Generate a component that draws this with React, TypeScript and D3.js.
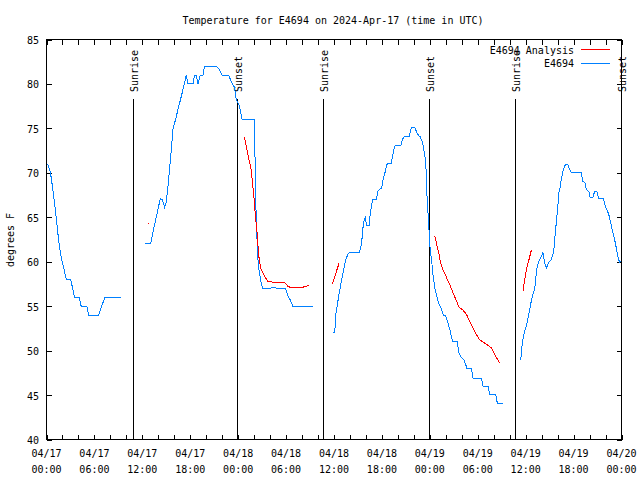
import React from "react";
import * as d3 from "d3";

// ---- data (hours since 2024-04-17 00:00 UTC, temperature °F) ----
const startMs = Date.UTC(2024, 3, 17, 0, 0);
const endMs = Date.UTC(2024, 3, 20, 0, 0);

const title = "Temperature for E4694 on 2024-Apr-17 (time in UTC)";
const yLabel = "degrees F";
const seriesNames = ["E4694 Analysis", "E4694"];
const seriesColors = ["#ff0000", "#0080ff"];

const yTicks = [40, 45, 50, 55, 60, 65, 70, 75, 80, 85];
const xLabelHours = [0, 6, 12, 18, 24, 30, 36, 42, 48, 54, 60, 66, 72];
const xTickHours = d3.range(0, 73, 2);

const sunLabels = ["Sunrise", "Sunset", "Sunrise", "Sunset", "Sunrise", "Sunset"];
const sunHours = [10.79, 23.88, 34.67, 47.91, 58.67, 71.97];

const obsSeg1: [number, number][] = [
  [0.13, 71], [0.25, 70.8], [0.5, 70], [0.66, 69], [1.0, 66.7], [1.21, 65], [1.41, 63.3],
  [1.63, 61.7], [1.91, 60.2], [2.16, 59.3], [2.38, 58.4], [2.5, 58], [3.04, 58], [3.5, 56],
  [4.09, 56], [4.34, 55], [5.04, 55], [5.29, 54], [6.54, 54], [6.9, 55], [7.34, 56], [9.34, 56],
];
const obsSeg2: [number, number][] = [
  [12.29, 62], [13.04, 62], [13.54, 64.2], [13.96, 65.9], [14.25, 67.1], [14.5, 67], [14.79, 66.1],
  [15.0, 66.7], [15.21, 68.5], [15.41, 70.4], [15.63, 72.6], [15.84, 74.9], [16.16, 76],
  [16.46, 77.1], [16.88, 78.6], [17.29, 80.1], [17.5, 81], [17.71, 80], [18.34, 80], [18.54, 81],
  [18.75, 81], [18.96, 80], [19.25, 81], [19.59, 81], [19.79, 82], [21.25, 82], [21.66, 81.6],
  [22.0, 81], [22.79, 81], [23.13, 80.3], [23.54, 79.6], [23.75, 78.25], [24.16, 77.5], [24.5, 76],
  [26.04, 76], [26.09, 73], [26.19, 67], [26.34, 62.9], [26.5, 59.9], [26.66, 58.75], [26.88, 57.6],
  [27.09, 57], [28.0, 57], [28.3, 57.1], [29.0, 57], [29.91, 57], [30.21, 56.2], [30.5, 55.75],
  [30.84, 55], [33.34, 55],
];
const obsSeg3: [number, number][] = [
  [35.84, 52], [36.09, 52], [36.16, 53.1], [36.25, 54.25], [36.46, 55.4], [36.66, 56.5],
  [36.88, 57.6], [37.09, 58.6], [37.29, 59.5], [37.5, 60.25], [37.71, 60.8], [37.91, 61],
  [39.16, 61], [39.38, 61.75], [39.5, 62.5], [39.59, 63.6], [39.79, 64.75], [39.91, 65],
  [40.09, 64.1], [40.41, 64.1], [40.54, 65.5], [40.71, 66.3], [40.84, 67], [41.34, 67],
  [41.46, 67.9], [41.66, 68.1], [41.96, 68.3], [42.16, 69.25], [42.38, 70], [42.59, 70.9],
  [42.71, 71], [43.13, 71], [43.34, 71.9], [43.54, 72.8], [43.66, 73.1], [44.38, 73.1],
  [44.59, 73.8], [44.79, 74.05], [45.41, 74.05], [45.63, 74.9], [45.75, 75.06], [46.13, 75.06],
  [46.34, 74.6], [46.59, 74.2], [46.79, 74.05], [47.09, 73.4], [47.29, 72.4], [47.5, 71.1],
  [47.59, 68.5], [47.71, 66.25], [47.84, 64.75], [47.91, 63.25], [48.04, 61.4], [48.25, 59.9],
  [48.41, 58.4], [48.66, 56.9], [48.96, 55.75], [49.16, 55.2], [49.38, 54.8], [49.59, 54.25],
  [49.79, 53.9], [50.0, 53.9], [50.29, 53.05], [50.5, 52.4], [50.84, 51.06], [51.41, 51.06],
  [51.66, 49.75], [51.96, 49.2], [52.25, 49], [52.5, 48.4], [52.66, 47.95], [53.21, 47.95],
  [53.41, 46.9], [54.46, 46.9], [54.66, 46], [55.29, 46], [55.5, 45.06], [56.25, 45.06],
  [56.46, 44.05], [57.16, 44.05],
];
const obsSeg4: [number, number][] = [
  [59.38, 48.9], [59.54, 50.5], [59.66, 51.25], [59.88, 52.2], [60.09, 52.75], [60.29, 53.7],
  [60.5, 54.6], [60.71, 55.6], [60.91, 56.3], [61.13, 56.9], [61.25, 58], [61.41, 59.3],
  [61.66, 60.1], [61.96, 60.6], [62.16, 61], [62.38, 59.9], [62.59, 59.3], [62.91, 59.95],
  [63.21, 60.25], [63.41, 60.8], [63.54, 61.4], [63.63, 62.5], [63.75, 63.6], [63.91, 65.1],
  [64.04, 66.4], [64.16, 67.75], [64.34, 68.5], [64.46, 69.25], [64.66, 70.2], [64.96, 70.9],
  [65.29, 70.9], [65.59, 70.2], [65.71, 70], [66.96, 70], [67.16, 69.06], [67.41, 68.9],
  [67.59, 68.1], [67.91, 67.9], [68.09, 67.2], [68.41, 67.2], [68.63, 67.9], [68.91, 67.9],
  [69.16, 67.1], [69.75, 67.1], [70.0, 66.1], [70.16, 65.9], [70.41, 65.3], [70.59, 64.6],
  [70.84, 63.6], [71.09, 62.7], [71.34, 61.6], [71.54, 60.6], [71.75, 59.95], [72.0, 60],
];

const anaSeg1: [number, number][] = [[12.75, 64.3], [12.85, 64.3]];
const anaSeg2: [number, number][] = [
  [24.79, 74], [25.09, 72.6], [25.34, 71.5], [25.63, 70.4], [25.84, 68.5], [26.04, 66.6],
  [26.16, 65.1], [26.34, 63.6], [26.46, 62.1], [26.54, 61], [26.66, 60.1], [26.88, 59.1],
  [27.29, 58.4], [27.71, 57.8], [28.34, 57.7], [29.79, 57.7], [30.21, 57.25], [30.63, 57.07],
  [31.88, 57.07], [32.5, 57.25], [32.84, 57.3],
];
const anaSeg3: [number, number][] = [[35.79, 57.5], [36.66, 59.9]];
const anaSeg4: [number, number][] = [
  [48.63, 62.9], [48.91, 61.75], [49.16, 60.8], [49.34, 59.9], [49.59, 59.2], [50.0, 58.4],
  [50.5, 57.4], [50.91, 56.5], [51.25, 55.75], [51.66, 54.9], [52.16, 54.55], [52.59, 54.06],
  [53.0, 53.3], [53.5, 52.4], [53.84, 51.8], [54.16, 51.3], [54.66, 50.95], [55.29, 50.6],
  [55.71, 50.3], [56.13, 49.6], [56.41, 49.1], [56.75, 48.6],
];
const anaSeg5: [number, number][] = [
  [59.66, 56.7], [59.88, 58], [60.09, 59.1], [60.38, 60.1], [60.71, 61.3],
];

const obsSegments = [obsSeg1, obsSeg2, obsSeg3, obsSeg4];
const anaSegments = [anaSeg1, anaSeg2, anaSeg3, anaSeg4, anaSeg5];

// ---- layout ----
const W = 640;
const H = 480;
const L = 46.5;
const R = 621.5;
const T = 39.5;
const B = 439.5;
const FONT = "'DejaVu Sans Mono', monospace";
const FS = 10;

const toDate = (h: number) => new Date(startMs + h * 3600e3);

export default function App() {
  const x = d3.scaleUtc().domain([new Date(startMs), new Date(endMs)]).range([L, R]);
  const y = d3.scaleLinear().domain([40, 85]).range([B, T]);
  const line = d3
    .line<[number, number]>()
    .x((d) => x(toDate(d[0])))
    .y((d) => y(d[1]));
  const fmtDay = d3.utcFormat("%m/%d");
  const fmtTime = d3.utcFormat("%H:%M");

  return (
    <svg
      width={W}
      height={H}
      style={{ position: "absolute", left: 0, top: 0, background: "#fff" }}
      fontFamily={FONT}
      fontSize={FS}
    >
      <rect x={0} y={0} width={W} height={H} fill="#fff" />
      <text x={333} y={20} textAnchor="middle" dominantBaseline="central">
        {title}
      </text>
      <text
        transform={`translate(10,240) rotate(-90)`}
        textAnchor="middle"
        dominantBaseline="central"
      >
        {yLabel}
      </text>

      {/* y ticks */}
      {yTicks.map((v) => (
        <g key={"y" + v} shapeRendering="crispEdges">
          <line x1={L} x2={L + 5} y1={Math.round(y(v)) + 0.5} y2={Math.round(y(v)) + 0.5} stroke="#000" />
          <line x1={R} x2={R - 5} y1={Math.round(y(v)) + 0.5} y2={Math.round(y(v)) + 0.5} stroke="#000" />
          <text x={39} y={y(v) + 1} textAnchor="end" dominantBaseline="central" shapeRendering="auto">
            {v}
          </text>
        </g>
      ))}

      {/* x ticks */}
      {xTickHours.map((h) => {
        const px = Math.round(x(toDate(h))) + 0.5;
        return (
          <g key={"x" + h} shapeRendering="crispEdges">
            <line x1={px} x2={px} y1={B} y2={B - 5} stroke="#000" />
            <line x1={px} x2={px} y1={T} y2={T + 5} stroke="#000" />
          </g>
        );
      })}
      {xLabelHours.map((h) => {
        const px = x(toDate(h));
        return (
          <g key={"xl" + h}>
            <text x={px} y={453} textAnchor="middle" dominantBaseline="central">
              {fmtDay(toDate(h))}
            </text>
            <text x={px} y={469} textAnchor="middle" dominantBaseline="central">
              {fmtTime(toDate(h))}
            </text>
          </g>
        );
      })}

      {/* sunrise / sunset */}
      {sunHours.map((h, i) => {
        const px = Math.round(x(toDate(h))) + 0.5;
        return (
          <g key={"s" + i}>
            <line x1={px} x2={px} y1={99} y2={B} stroke="#000" shapeRendering="crispEdges" />
            <text
              transform={`translate(${px + 1},92) rotate(-90)`}
              textAnchor="start"
              dominantBaseline="central"
            >
              {sunLabels[i]}
            </text>
          </g>
        );
      })}

      {/* data */}
      <g fill="none" strokeWidth={1} shapeRendering="crispEdges">
        {obsSegments.map((s, i) => (
          <path key={"o" + i} d={line(s) ?? ""} stroke={seriesColors[1]} />
        ))}
        {anaSegments.map((s, i) => (
          <path key={"a" + i} d={line(s) ?? ""} stroke={seriesColors[0]} />
        ))}
      </g>

      {/* legend */}
      <text x={574} y={50} textAnchor="end" dominantBaseline="central">
        {seriesNames[0]}
      </text>
      <line x1={581} x2={610} y1={49.5} y2={49.5} stroke={seriesColors[0]} shapeRendering="crispEdges" />
      <text x={574} y={63} textAnchor="end" dominantBaseline="central">
        {seriesNames[1]}
      </text>
      <line x1={581} x2={610} y1={63.5} y2={63.5} stroke={seriesColors[1]} shapeRendering="crispEdges" />

      {/* border */}
      <rect x={L} y={T} width={R - L} height={B - T} fill="none" stroke="#000" shapeRendering="crispEdges" />
    </svg>
  );
}
